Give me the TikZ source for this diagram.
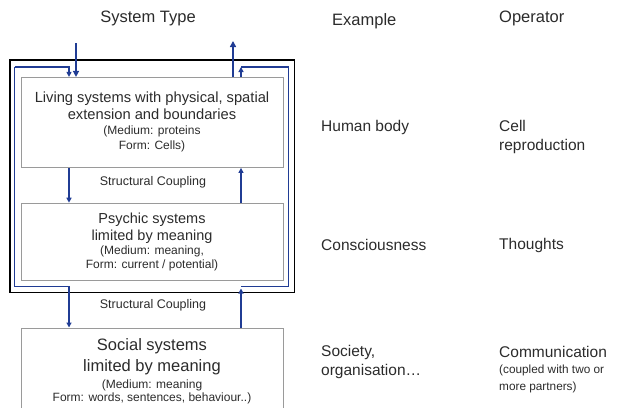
\documentclass[tikz,border=0pt]{standalone}
\usepackage{fontspec}
\setmainfont{Liberation Sans}
\usetikzlibrary{arrows.meta,positioning,calc}
\definecolor{linkblue}{HTML}{203C94}
\definecolor{boxgray}{HTML}{9A9A9A}
\definecolor{txtgray}{HTML}{2B2B2B}
\newcommand{\mainline}[2][14.7]{{\fontsize{#1}{#1}\selectfont #2}}
\newcommand{\noteline}[1]{{\fontsize{12}{12}\selectfont #1}}

\begin{document}
\begin{tikzpicture}[x=1pt,y=-1pt,text=txtgray,
  sysbox/.style={draw=boxgray,line width=1pt,minimum width=262pt,align=center,inner sep=0pt},
  head/.style={inner sep=0pt,font=\fontsize{16.5}{19}\selectfont},
  colitem/.style={anchor=west,inner sep=0pt,align=left,font=\fontsize{15.5}{19}\selectfont},
  coupling/.style={inner sep=0pt,font=\fontsize{12.5}{15}\selectfont},
  link/.style={draw=linkblue,line width=1.2pt},
  tip/.style={-{Triangle[length=5pt,width=5pt]}},
  io/.style={draw=linkblue,line width=2pt,-{Triangle[length=6pt,width=6pt]}}]
\useasboundingbox (0,0) rectangle (617,407);
\clip (0,0) rectangle (617,407);

% column heads
\node[head] (hsys) at (148,18) {System Type};
\node[head,anchor=west] (hexa) at (332,21) {Example};
\node[head,anchor=west] (hop) at (499,18) {Operator};

% system boxes
\node[sysbox,minimum height=90pt,font=\fontsize{12}{15}\selectfont] (living) at (152,122.4) {%
  \mainline{Living systems with physical, spatial}\\[2pt]
  \mainline{extension and boundaries}\\
  \noteline{(Medium: proteins}\\
  \noteline{Form: Cells)}};
\node[sysbox,minimum height=77pt,font=\fontsize{12}{14}\selectfont] (psychic) at (152,241.7) {%
  \mainline[14.5]{Psychic systems}\\[3pt]
  \mainline[14.5]{limited by meaning}\\
  \noteline{(Medium: meaning,}\\
  \noteline{Form: current / potential)}};
\node[sysbox,minimum height=86pt,font=\fontsize{12}{13}\selectfont] (social) at (152,371) {%
  \mainline[16.5]{Social systems}\\[5pt]
  \mainline[16.5]{limited by meaning}\\[4pt]
  \noteline{(Medium: meaning}\\
  \noteline{Form: words, sentences, behaviour..)}};

\node[coupling] (sc1) at (153,182) {Structural Coupling};
\node[coupling] (sc2) at (153,305) {Structural Coupling};

% outer frame
\draw[black,line width=1.2pt] (10,60) rectangle (294.5,292.5);

% loop corners
\coordinate (lx) at (69,0);
\coordinate (rx) at (241,0);
\coordinate (tl) at (14.5,67);
\coordinate (bl) at (14.5,286.5);
\coordinate (tr) at (288.5,67);
\coordinate (br) at (288.5,286.5);
\coordinate (in) at (76,43);
\coordinate (out) at (233,41);

\draw[link,tip] (tl) -| (living.north -| lx);
\draw[link,tip] (tl) -- (bl) -| (social.north -| lx);
\draw[link] (tr -| rx) -- (tr) -- (br) -- (br -| rx);
\draw[link,tip] (living.north -| rx) -- (tr -| rx);
\draw[link,tip] (social.north -| rx) -- ($(br -| rx)+(0,2)$);
\draw[link,tip] (living.south -| lx) -- (psychic.north -| lx);
\draw[link,tip] (psychic.north -| rx) -- (living.south -| rx);
\draw[io] (in) -- (living.north -| in);
\draw[io] (living.north -| out) -- (out);

% examples and operators
\node[colitem] (exliv) at (321,127) {Human body};
\node[colitem] (opliv) at (499,136.5) {Cell\\reproduction};
\node[colitem] (expsy) at (321,245) {Consciousness};
\node[colitem] (oppsy) at (499,245) {Thoughts};
\node[colitem] (exsoc) at (321,362) {Society,\\organisation\dots};
\node[colitem] (opsoc) at (499,352) {Communication};
\node[colitem,font=\fontsize{11.8}{17}\selectfont] (opnote) at (499,378.5) {(coupled with two or\\more partners)};
\end{tikzpicture}
\end{document}
